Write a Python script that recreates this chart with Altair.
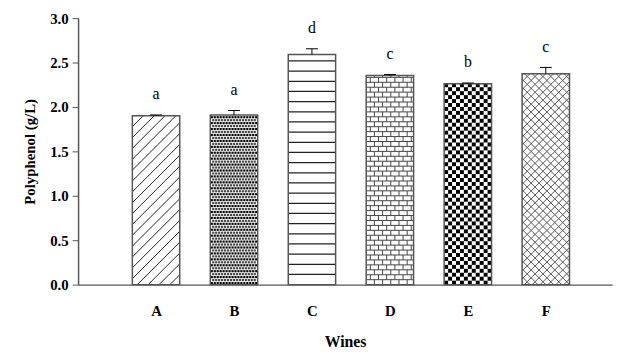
import altair as alt
import pandas as pd
import numpy as np

wines = ["A", "B", "C", "D", "E", "F"]
positions = [1, 2, 3, 4, 5, 6]
means = [1.90, 1.91, 2.59, 2.355, 2.26, 2.375]
errors = [0.01, 0.05, 0.065, 0.01, 0.01, 0.07]
letters = ["a", "a", "d", "c", "b", "c"]
y_ticks = [0.0, 0.5, 1.0, 1.5, 2.0, 2.5, 3.0]

# layout constants (pixel geometry of the plot)
PLOT_W = 541
PLOT_H = 270
X_MAX = 6.85
Y_MAX = 3.0
KX = PLOT_W / X_MAX
KY = PLOT_H / Y_MAX
BAR_PX = 48
HW = (BAR_PX / 2) / KX
CAP = 6 / KX

bars = pd.DataFrame({
    "wine": wines, "pos": positions, "mean": means, "err": errors, "letter": letters,
})
bars["x0"] = bars["pos"] - HW
bars["x1"] = bars["pos"] + HW
bars["top"] = bars["mean"] + bars["err"]
bars["c0"] = bars["pos"] - CAP
bars["c1"] = bars["pos"] + CAP
bars["zero"] = 0.0

segs = []
rects = []


def seg(i, xa, ya, xb, yb, c="#222", w=1.0):
    base = positions[i] - HW
    segs.append({"x": base + xa / KX, "x2": base + xb / KX,
                 "y": ya / KY, "y2": yb / KY, "c": c, "w": w})


def rect(i, xa, ya, xb, yb, c="#000"):
    base = positions[i] - HW
    rects.append({"x": base + xa / KX, "x2": base + xb / KX,
                  "y": ya / KY, "y2": yb / KY, "c": c})


W = BAR_PX
# A: forward diagonal hatch
h = means[0] * KY
for c in np.arange(-h, W, 11.0):
    xa, xb = max(0.0, c), min(W, c + h)
    if xb > xa:
        seg(0, xa, xa - c, xb, xb - c, "#222", 1.0)

# B: stipple dots
h = means[1] * KY
r = 0
yy = 0.5
while yy + 2.2 <= h:
    xx = (r % 2) * 1.5 + 0.4
    while xx + 2.2 <= W:
        rect(1, xx, yy, xx + 2.2, yy + 2.2, "#000" if r % 2 == 0 else "#444")
        xx += 3.0
    yy += 3.0
    r += 1

# C: horizontal lines
h = means[2] * KY
yy = 10.3
while yy < h - 1:
    seg(2, 0, yy, W, yy, "#222", 1.2)
    yy += 10.3

# D: brick
h = means[3] * KY
k = 0
yy = 0.0
while yy < h:
    top = min(h, yy + 5.0)
    if top < h:
        seg(3, 0, top, W, top, "#444", 1.0)
    xx = 4.15 if k % 2 else 0.0
    while xx < W:
        if xx > 0.5:
            seg(3, xx, yy, xx, top, "#444", 1.0)
        xx += 8.3
    yy += 5.0
    k += 1

# E: checkerboard
h = means[4] * KY
n_r = int(np.ceil(h / 4.0))
n_c = int(np.ceil(W / 4.0))
for rr in range(n_r):
    for cc in range(n_c):
        if (rr + cc) % 2 == 0:
            rect(4, cc * 4.0, rr * 4.0, min(W, cc * 4.0 + 4), min(h, rr * 4.0 + 4), "#000")

# F: cross hatch
h = means[5] * KY
for c in np.arange(-h, W, 8.0):
    xa, xb = max(0.0, c), min(W, c + h)
    if xb > xa:
        seg(5, xa, xa - c, xb, xb - c, "#555", 1.0)
for c in np.arange(0, W + h, 8.0):
    xa, xb = max(0.0, c - h), min(W, c)
    if xb > xa:
        seg(5, xa, c - xa, xb, c - xb, "#555", 1.0)

segs_df = pd.DataFrame(segs)
rects_df = pd.DataFrame(rects)

FONT = "Liberation Serif"
xs = alt.Scale(domain=[0, X_MAX], nice=False, zero=False)
ys = alt.Scale(domain=[0, Y_MAX], nice=False)

x_axis = alt.Axis(values=positions,
                  labelExpr="['','A','B','C','D','E','F'][datum.value]",
                  ticks=False, grid=False, domainColor="#555", domainWidth=1.5,
                  labelFont=FONT, labelFontSize=15, labelFontWeight="bold",
                  labelColor="black", labelPadding=19,
                  titleFont=FONT, titleFontSize=16, titleFontWeight="bold",
                  titleColor="black", titlePadding=16)
y_axis = alt.Axis(values=y_ticks, format=".1f", grid=False, tickSize=6,
                  tickColor="#555", domainColor="#555", domainWidth=1.5,
                  labelFont=FONT, labelFontSize=15, labelFontWeight="bold",
                  labelColor="black", labelPadding=4,
                  titleFont=FONT, titleFontSize=15, titleFontWeight="bold",
                  titleColor="black", titlePadding=12)
XT = "Wines"
YT = "Polyphenol (g/L)"


def X(f):
    return alt.X(f, scale=xs, axis=x_axis, title=XT)


def Y(f):
    return alt.Y(f, scale=ys, axis=y_axis, title=YT)


base = alt.Chart(bars)

fill = base.mark_rect(fill="white", strokeWidth=0).encode(
    x=X("x0:Q"), x2="x1:Q", y=Y("zero:Q"), y2="mean:Q",
)

pat_rects = alt.Chart(rects_df).mark_rect(strokeWidth=0).encode(
    x=X("x:Q"), x2="x2:Q", y=Y("y:Q"), y2="y2:Q",
    color=alt.Color("c:N", scale=None),
)

pat_rules = alt.Chart(segs_df).mark_rule().encode(
    x=X("x:Q"), x2="x2:Q", y=Y("y:Q"), y2="y2:Q",
    color=alt.Color("c:N", scale=None),
    strokeWidth=alt.StrokeWidth("w:Q", scale=None),
)

outline = base.mark_rect(fillOpacity=0, stroke="#555", strokeWidth=1.5).encode(
    x=X("x0:Q"), x2="x1:Q", y=Y("zero:Q"), y2="mean:Q",
)

err = base.mark_rule(color="black", strokeWidth=1).encode(
    x=X("pos:Q"), y=Y("mean:Q"), y2="top:Q",
)
cap = base.mark_rule(color="black", strokeWidth=1).encode(
    x=X("c0:Q"), x2="c1:Q", y=Y("top:Q"),
)
labels = base.mark_text(font=FONT, fontSize=16, color="black", baseline="alphabetic", dy=-16).encode(
    x=X("pos:Q"), y=Y("top:Q"), text="letter:N",
)

chart = alt.layer(fill, pat_rects, pat_rules, outline, err, cap, labels).properties(
    width=PLOT_W, height=PLOT_H,
    background="white",
    autosize=alt.AutoSizeParams(type="none"),
    padding={"left": 71, "top": 8, "right": 5, "bottom": 66},
).configure_view(stroke=None)

chart.save("out.html", embed_options={"renderer": "svg", "actions": False})
